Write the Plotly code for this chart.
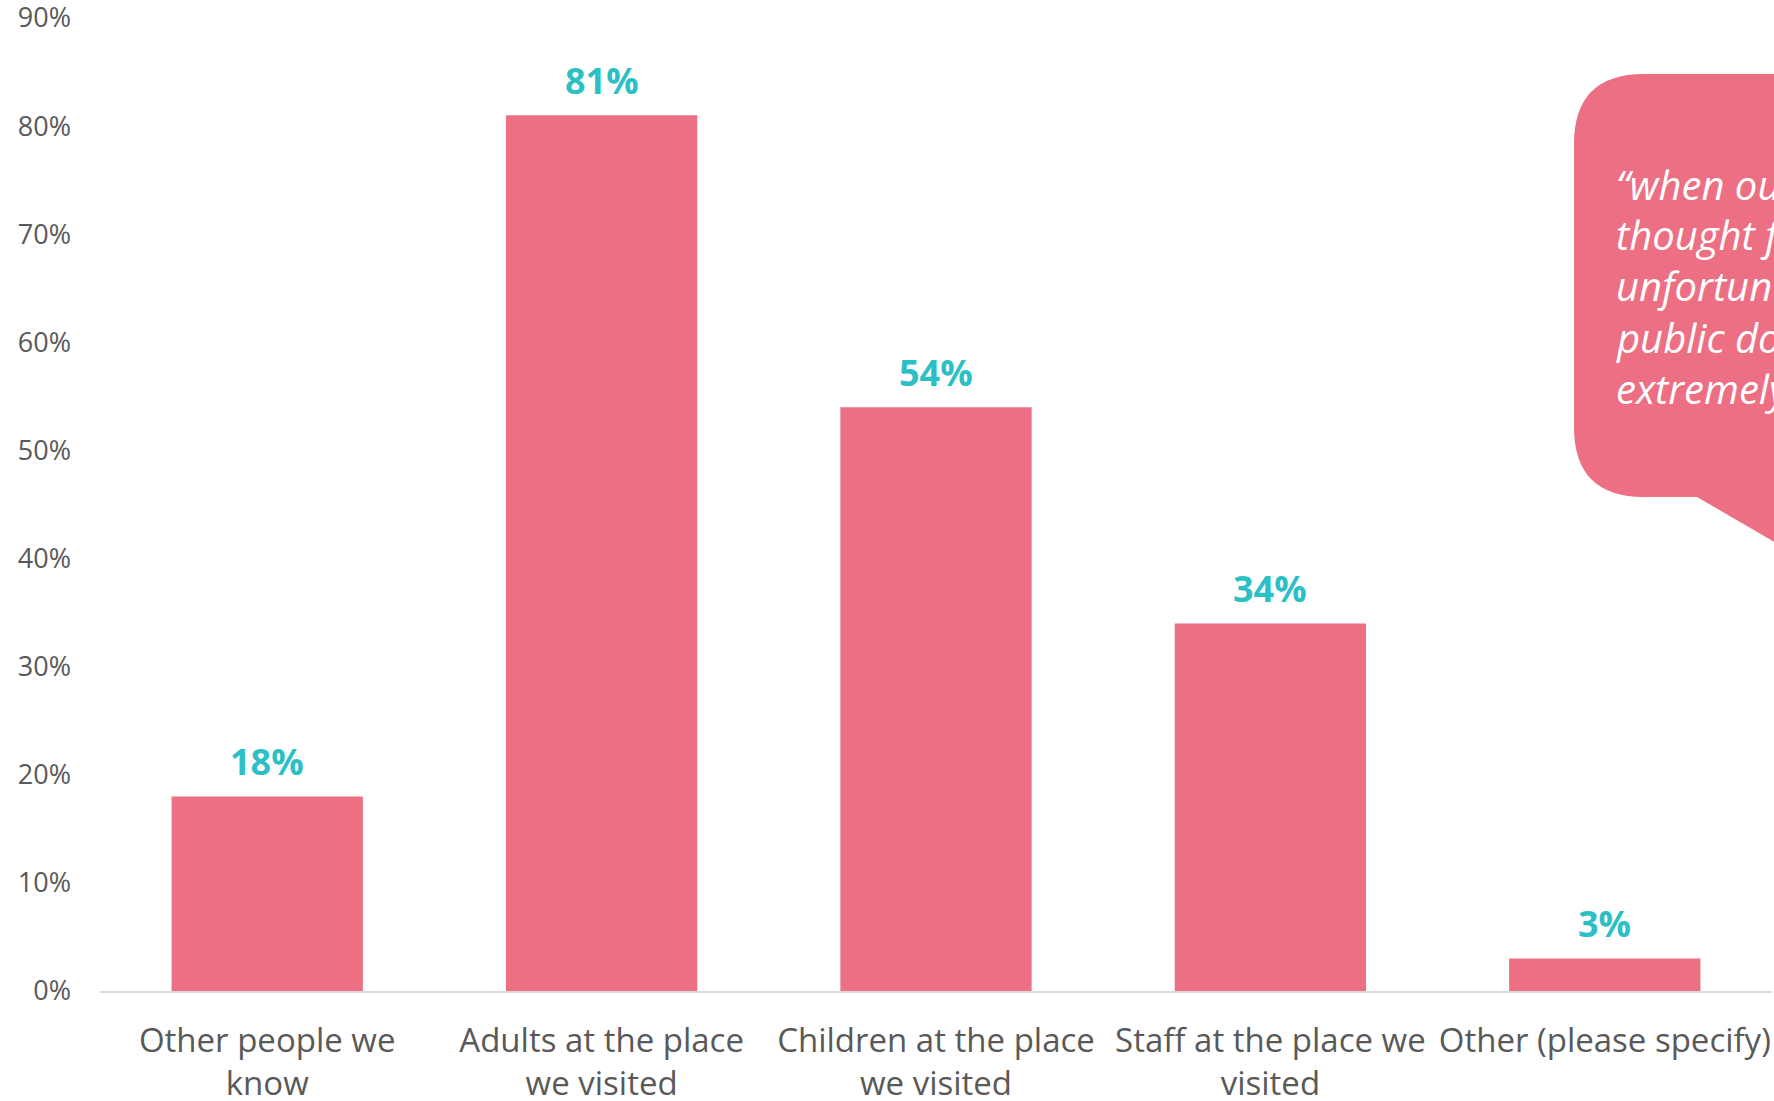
import plotly.graph_objects as go

# Survey responses: who the respondents interacted with
categories = [
    "Other people we<br>know",
    "Adults at the place<br>we visited",
    "Children at the place<br>we visited",
    "Staff at the place we<br>visited",
    "Other (please specify)",
]
shares = [18, 81, 54, 34, 3]
y_ticks = [0, 10, 20, 30, 40, 50, 60, 70, 80, 90]
y_tick_labels = [f"{v}%" for v in y_ticks]

quote_lines = [
    "\u201cwhen our",
    "thought f",
    "unfortunately",
    "public domain",
    "extremely",
]

PINK = "#EC6F83"
TEAL = "#2DBFC6"
GREY = "#595959"
FONT = "Open Sans"

W, H = 1774, 1101
ML, MR, MT, MB = 100, 2, 18, 110
PW, PH = W - ML - MR, H - MT - MB


def px_x(x):
    return (x - ML) / PW


def px_y(y):
    return (H - MB - y) / PH


fig = go.Figure(
    go.Bar(
        x=categories,
        y=shares,
        marker=dict(color=PINK, line=dict(width=0)),
        cliponaxis=False,
        hoverinfo="skip",
    )
)

# Value labels above each bar
for cat, v in zip(categories, shares):
    fig.add_annotation(
        x=cat,
        y=v,
        xref="x",
        yref="y",
        yanchor="middle",
        yshift=35,
        text=f"<b>{v}%</b>",
        showarrow=False,
        font=dict(family=FONT, size=36, color=TEAL),
    )

# Speech bubble with rounded corners and a tail pointing down-right
r = 70
left, top, bottom, right = 1574, 74, 497, 1900
pts = [
    ("M", left + r, top),
    ("L", right, top),
    ("L", right, 615),
    ("L", 1697, bottom),
    ("L", left + r, bottom),
]
path = ""
for cmd, x, y in pts:
    path += f"{cmd}{px_x(x):.5f},{px_y(y):.5f} "
path += f"Q{px_x(left):.5f},{px_y(bottom):.5f} {px_x(left):.5f},{px_y(bottom - r):.5f} "
path += f"L{px_x(left):.5f},{px_y(top + r):.5f} "
path += f"Q{px_x(left):.5f},{px_y(top):.5f} {px_x(left + r):.5f},{px_y(top):.5f} Z"

fig.add_shape(
    type="path",
    path=path,
    xref="paper",
    yref="paper",
    fillcolor=PINK,
    line=dict(width=0),
    layer="below",
)

for i, line in enumerate(quote_lines):
    fig.add_annotation(
        x=px_x(1614),
        y=px_y(184 + i * 51),
        xref="paper",
        yref="paper",
        xanchor="left",
        yanchor="middle",
        text=f"<i>{line}</i>",
        showarrow=False,
        font=dict(family=FONT, size=40, color="white"),
    )

fig.update_layout(
    width=W,
    height=H,
    margin=dict(l=ML, r=MR, t=MT, b=MB, autoexpand=False),
    paper_bgcolor="white",
    plot_bgcolor="white",
    bargap=0.428,
    showlegend=False,
    font=dict(family=FONT, color=GREY),
    xaxis=dict(
        showline=True,
        linecolor="#D9D9D9",
        linewidth=2,
        showgrid=False,
        ticks="",
        tickfont=dict(family=FONT, size=33, color=GREY),
        ticklabelstandoff=19,
        fixedrange=True,
    ),
    yaxis=dict(
        range=[0, 90],
        tickvals=y_ticks,
        ticktext=y_tick_labels,
        showgrid=False,
        zeroline=False,
        showline=False,
        ticks="",
        tickfont=dict(family=FONT, size=27, color=GREY),
        ticklabelstandoff=28,
        ticklabeloverflow="allow",
        fixedrange=True,
    ),
)

fig.write_html("out.html")
